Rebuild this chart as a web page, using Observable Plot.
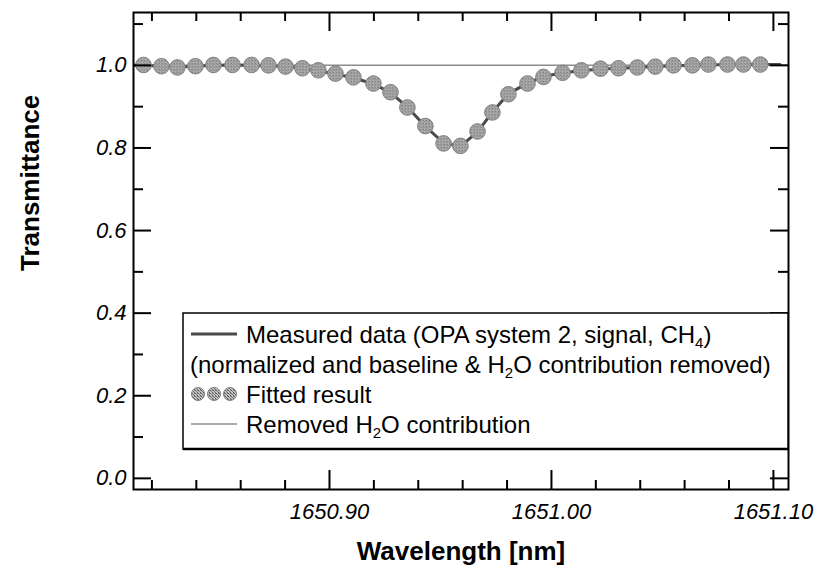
<!DOCTYPE html>
<html><head><meta charset="utf-8">
<script src="https://cdn.jsdelivr.net/npm/d3@7"></script>
<script src="https://cdn.jsdelivr.net/npm/@observablehq/plot@0.6"></script>
<style>body{margin:0;background:#fff;}</style>
</head><body><div id="chart"></div>
<script>
// ---- data ----
const fittedWavelength = [1650.8162,1650.8243,1650.8315,1650.8396,1650.8477,1650.8563,1650.8649,1650.8725,1650.8802,1650.8878,1650.8950,1650.9027,1650.9108,1650.9198,1650.9275,1650.9351,1650.9432,1650.9514,1650.9590,1650.9667,1650.9734,1650.9806,1650.9892,1650.9964,1651.0050,1651.0135,1651.0221,1651.0302,1651.0387,1651.0468,1651.0550,1651.0635,1651.0707,1651.0793,1651.0865,1651.0941];
const fittedTransmittance = [1.001,0.998,0.995,0.998,1.001,1.001,1.001,1.000,0.997,0.993,0.988,0.980,0.971,0.956,0.935,0.898,0.853,0.811,0.805,0.840,0.886,0.930,0.956,0.972,0.982,0.988,0.992,0.993,0.995,0.997,1.000,1.000,1.002,1.002,1.002,1.002];
const measuredWavelength = [1650.8120,1650.8162,1650.8243,1650.8315,1650.8396,1650.8477,1650.8563,1650.8649,1650.8725,1650.8802,1650.8878,1650.8950,1650.9027,1650.9108,1650.9198,1650.9275,1650.9351,1650.9432,1650.9514,1650.9590,1650.9667,1650.9734,1650.9806,1650.9892,1650.9964,1651.0050,1651.0135,1651.0221,1651.0302,1651.0387,1651.0468,1651.0550,1651.0635,1651.0707,1651.0793,1651.0865,1651.0941,1651.1030];
const measuredTransmittance = [1.000,1.000,0.998,0.996,0.998,1.000,1.001,1.000,0.999,0.997,0.993,0.987,0.979,0.970,0.955,0.934,0.899,0.852,0.812,0.804,0.839,0.887,0.931,0.957,0.973,0.982,0.987,0.991,0.993,0.995,0.997,0.999,1.000,1.001,1.002,1.002,1.002,1.002];
const h2oWavelength = [1650.8117,1650.9000,1651.0000,1651.1068];
const h2oTransmittance = [1.000,1.000,1.000,1.000];
const xDomain = [1650.8117, 1651.1068];
const yDomain = [-0.027, 1.128];
const xMajorTicks = [1650.90,1651.00,1651.10];
const xMinorTicks = [1650.82,1650.84,1650.86,1650.88,1650.92,1650.94,1650.96,1650.98,1651.02,1651.04,1651.06,1651.08];
const yMajorTicks = [0.0,0.2,0.4,0.6,0.8,1.0];
const yMinorTicks = [0.1,0.3,0.5,0.7,0.9,1.1];
const xTitle = "Wavelength [nm]";
const yTitle = "Transmittance";
const legendRows = [
  [{t:"Measured data (OPA system 2, signal, CH"},{t:"4",sub:true},{t:")"}],
  [{t:"(normalized and baseline & H"},{t:"2",sub:true},{t:"O contribution removed)"}],
  [{t:"Fitted result"}],
  [{t:"Removed H"},{t:"2",sub:true},{t:"O contribution"}]
];

const fitted = fittedWavelength.map((x,i)=>({x, y: fittedTransmittance[i]}));
const measured = measuredWavelength.map((x,i)=>({x, y: measuredTransmittance[i]}));
const h2o = h2oWavelength.map((x,i)=>({x, y: h2oTransmittance[i]}));

const W = 828, H = 580, mL = 133, mR = 40, mT = 12, mB = 91;
const fw = W - mL - mR, fh = H - mT - mB;
const kx = (xDomain[1]-xDomain[0]) / fw;   // data units per pixel
const ky = (yDomain[1]-yDomain[0]) / fh;
const FONT = "'Liberation Sans', Arial, Helvetica, sans-serif";

// inward tick marks (lengths in pixels converted to data units)
const tick = {stroke:"#000", strokeWidth:2};
function xTicks(vals, len) {
  return [
    Plot.ruleX(vals, {x:d=>d, y1: yDomain[0], y2: yDomain[0] + len*ky, ...tick}),
    Plot.ruleX(vals, {x:d=>d, y1: yDomain[1], y2: yDomain[1] - len*ky, ...tick})
  ];
}
function yTicks(vals, len) {
  return [
    Plot.ruleY(vals, {y:d=>d, x1: xDomain[0], x2: xDomain[0] + len*kx, ...tick}),
    Plot.ruleY(vals, {y:d=>d, x1: xDomain[1], x2: xDomain[1] - len*kx, ...tick})
  ];
}

const chart = Plot.plot({
  width: W, height: H,
  marginLeft: mL, marginRight: mR, marginTop: mT, marginBottom: mB,
  style: {fontFamily: FONT, background: "#fff", color: "#000"},
  x: {domain: xDomain},
  y: {domain: yDomain},
  marks: [
    Plot.line(h2o, {x:"x", y:"y", stroke:"#8c8c8c", strokeWidth:1.5}),
    Plot.line(measured, {x:"x", y:"y", stroke:"#4a4a4a", strokeWidth:3}),
    Plot.dot(fitted, {x:"x", y:"y", r:7.8, fill:"url(#checker)", stroke:"#808080", strokeWidth:1}),
    ...xTicks(xMinorTicks, 9), ...xTicks(xMajorTicks, 19),
    ...yTicks(yMinorTicks, 10), ...yTicks(yMajorTicks, 18),
    Plot.frame({stroke:"#000", strokeWidth:2}),
    Plot.axisX({ticks: xMajorTicks, anchor:"bottom", tickSize:0, tickPadding:14, tickFormat:d=>d.toFixed(2), fontSize:22, fontStyle:"italic", label:null}),
    Plot.axisY({ticks: yMajorTicks, anchor:"left", tickSize:0, tickPadding:7, tickFormat:d=>d.toFixed(1), fontSize:22, fontStyle:"italic", label:null}),
    Plot.text([yTitle], {text:d=>d, frameAnchor:"left", dx:-103, dy:20, rotate:-90, fontSize:26, fontWeight:"bold"}),
    Plot.text([xTitle], {text:d=>d, frameAnchor:"bottom", dy:70, fontSize:26, fontWeight:"bold"})
  ]
});

const svg = d3.select(chart);
const defs = svg.insert("defs", ":first-child");
const pat = defs.append("pattern").attr("id","checker").attr("patternUnits","userSpaceOnUse").attr("width",3).attr("height",3);
pat.append("rect").attr("width",3).attr("height",3).attr("fill","#c4c4c4");
pat.append("rect").attr("x",0).attr("y",0).attr("width",1).attr("height",1).attr("fill","#5a5a5a");
pat.append("rect").attr("x",1).attr("y",1).attr("width",1).attr("height",1).attr("fill","#7a7a7a");
pat.append("rect").attr("x",2).attr("y",2).attr("width",1).attr("height",1).attr("fill","#5a5a5a");
pat.append("rect").attr("x",2).attr("y",0).attr("width",1).attr("height",1).attr("fill","#8a8a8a");

// legend
const x1 = W - mR;
const lg = svg.append("g").attr("font-family", FONT).attr("font-size", 24).attr("fill","#000").attr("text-anchor","start");
const bx = 183, by = 313, bw = x1 - bx, bh = 136;
lg.append("rect").attr("x",bx).attr("y",by).attr("width",bw).attr("height",bh).attr("fill","#fff").attr("stroke","#000").attr("stroke-width",1.5);
lg.append("line").attr("x1",bx).attr("x2",x1).attr("y1",by+bh).attr("y2",by+bh).attr("stroke","#000").attr("stroke-width",2.5);
const rowY = [334, 364, 394, 424];
const textX = [246, 190, 246, 246];
legendRows.forEach((row, i) => {
  const t = lg.append("text").attr("x", textX[i]).attr("y", rowY[i]).attr("dy","0.36em").attr("text-anchor","start");
  let shifted = false;
  row.forEach(p => {
    const ts = t.append("tspan").text(p.t);
    if (p.sub) { ts.attr("font-size", 15).attr("dy", 5); shifted = true; }
    else if (shifted) { ts.attr("dy", -5); shifted = false; }
  });
});
lg.append("line").attr("x1",191).attr("x2",237).attr("y1",rowY[0]).attr("y2",rowY[0]).attr("stroke","#4a4a4a").attr("stroke-width",3);
[198,214,230].forEach(cx => lg.append("circle").attr("cx",cx).attr("cy",rowY[2]).attr("r",6.5).attr("fill","url(#checker)").attr("stroke","#808080"));
lg.append("line").attr("x1",191).attr("x2",237).attr("y1",rowY[3]).attr("y2",rowY[3]).attr("stroke","#8c8c8c").attr("stroke-width",1.5);

document.getElementById("chart").appendChild(chart);
</script>
</body></html>
